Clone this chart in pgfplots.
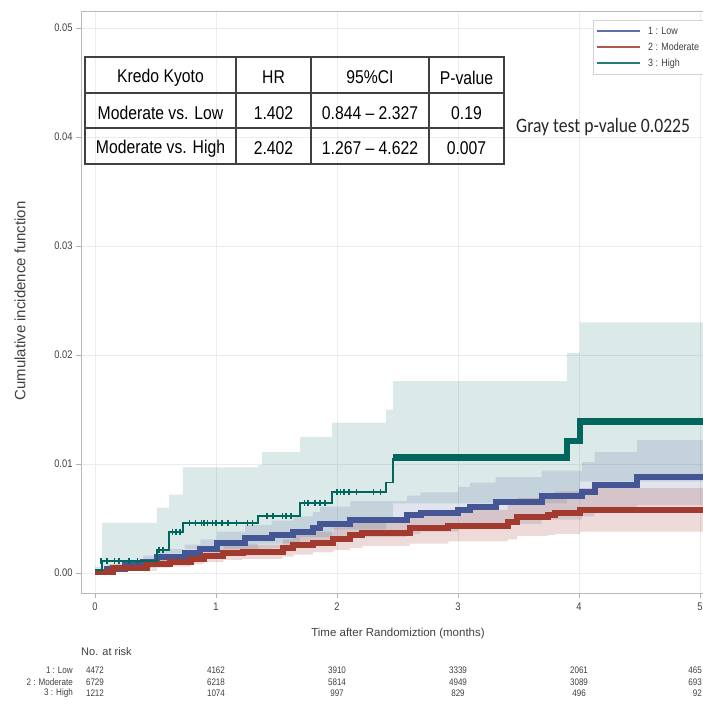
\documentclass[border=0pt]{standalone}
\usepackage{pgfplots}
\usepackage{pgfplotstable}
\pgfplotsset{compat=1.18}
\usepgfplotslibrary{fillbetween}
\usepackage{fontspec}
\setmainfont{Liberation Sans}
\newfontfamily\cond{Liberation Sans}[FakeStretch=0.85]
\newfontfamily\calib{Carlito}[FakeStretch=0.86]
\definecolor{cLow}{HTML}{445694}
\definecolor{cMod}{HTML}{A23A2E}
\definecolor{cHigh}{HTML}{01665E}

\pgfplotstableread{
x      y      lo     hi
0      0.0003 0.0000 0.0006
0.058  0.0011 0.0002 0.0046
0.512  0.0021 0.0007 0.0060
0.612  0.0038 0.0018 0.0072
0.727  0.0046 0.0022 0.0097
1.347  0.0052 0.0027 0.0099
1.38   0.0052 0.0027 0.0111
1.694  0.0064 0.0033 0.0125
1.959  0.0074 0.0040 0.0138
2.405  0.0083 0.0046 0.0150
2.463  0.0106 0.0064 0.0176
3.90   0.0121 0.0072 0.0202
4.008  0.0139 0.0084 0.0230
5.2    0.0139 0.0084 0.0230
}\tabHigh

\pgfplotstableread{
x      y      lo     hi
0      0.0001 0.0000 0.0003
0.1    0.0004 0.0002 0.0008
0.25   0.0007 0.0004 0.0012
0.4    0.0010 0.0006 0.0016
0.512  0.0015 0.0009 0.0022
0.74   0.0018 0.0011 0.0026
0.87   0.0022 0.0014 0.0031
1.01   0.0028 0.0018 0.0038
1.24   0.0032 0.0021 0.0044
1.46   0.0035 0.0023 0.0048
1.64   0.0038 0.0025 0.0052
1.8    0.0041 0.0027 0.0056
1.86   0.0045 0.0030 0.0061
2.11   0.0049 0.0033 0.0066
2.58   0.0053 0.0036 0.0071
2.69   0.0055 0.0038 0.0074
3.0    0.0058 0.0040 0.0079
3.1    0.0061 0.0042 0.0083
3.31   0.0065 0.0045 0.0088
3.69   0.0071 0.0049 0.0094
4.025  0.0074 0.0052 0.0102
4.13   0.0081 0.0056 0.0111
4.48   0.0088 0.0062 0.0122
5.2    0.0088 0.0062 0.0122
}\tabLow

\pgfplotstableread{
x      y      lo     hi
0      0.0001 0.0000 0.0003
0.15   0.0005 0.0003 0.0008
0.43   0.0008 0.0005 0.0012
0.62   0.0010 0.0006 0.0015
0.79   0.0013 0.0008 0.0018
0.9    0.0016 0.0010 0.0022
1.06   0.0018 0.0012 0.0025
1.22   0.0019 0.0013 0.0026
1.55   0.0023 0.0015 0.0031
1.64   0.0026 0.0017 0.0035
1.8    0.0028 0.0019 0.0038
1.97   0.0031 0.0021 0.0042
2.11   0.0035 0.0023 0.0047
2.21   0.0037 0.0025 0.0050
2.6    0.0041 0.0027 0.0055
2.92   0.0043 0.0029 0.0058
3.41   0.0047 0.0031 0.0063
3.49   0.0051 0.0034 0.0069
3.74   0.0053 0.0035 0.0072
3.8    0.0055 0.0036 0.0075
4.008  0.0058 0.0038 0.0078
5.2    0.0058 0.0038 0.0078
}\tabMod

\pgfplotstableread{
x     y
0.05  0.0011
0.10  0.0011
0.16  0.0011
0.20  0.0011
0.28  0.0011
0.35  0.0011
0.53  0.0021
0.56  0.0021
0.64  0.0038
0.67  0.0038
0.70  0.0038
0.78  0.0046
0.83  0.0046
0.88  0.0046
0.90  0.0046
0.93  0.0046
0.97  0.0046
1.00  0.0046
1.05  0.0046
1.10  0.0046
1.17  0.0046
1.26  0.0046
1.30  0.0046
1.42  0.0052
1.47  0.0052
1.55  0.0052
1.58  0.0052
1.62  0.0052
1.73  0.0064
1.76  0.0064
1.82  0.0064
1.86  0.0064
1.90  0.0064
2.00  0.0074
2.03  0.0074
2.06  0.0074
2.10  0.0074
2.16  0.0074
2.30  0.0074
2.36  0.0074
2.48  0.0106
2.52  0.0106
2.58  0.0106
2.60  0.0106
2.64  0.0106
}\tabCens

\begin{document}
\begin{tikzpicture}
\begin{axis}[
  at={(81pt,-593pt)}, anchor=south west,
  width=643.2pt, height=581pt, scale only axis,
  xmin=-0.116, xmax=5.2, ymin=-0.00183, ymax=0.05147,
  xtick={0,1,2,3,4,5},
  ytick={0,0.01,0.02,0.03,0.04,0.05},
  scaled y ticks=false,
  yticklabel style={/pgf/number format/.cd, fixed, fixed zerofill, precision=2},
  /pgf/number format/assume math mode=true,
  tick label style={font=\cond\fontsize{11}{13}\selectfont, text=black!75},
  xticklabel style={yshift=-1.5pt},
  tick pos=left, tick align=outside, major tick length=5pt,
  tick style={gray!60, line width=0.8pt},
  grid=major, grid style={gray!15, line width=0.8pt},
  axis line style={gray!55, line width=1pt},
  legend style={at={(0.7960,0.9862)}, anchor=north west, draw=gray!35, fill=white,
    font=\cond\fontsize{10.5}{12}\selectfont, text=black!75,
    nodes={inner sep=1pt, text height=9pt, text depth=3pt},
    row sep=2pt, inner xsep=3pt, inner ysep=4pt},
  legend cell align=left,
  legend image code/.code={\draw[#1, line width=2pt, opacity=0.85] (0pt,0pt) -- (43pt,0pt); \path (47pt,0pt);},
]
% confidence bands
\addplot[const plot, draw=none, name path=hU, forget plot] table[x=x,y=hi]{\tabHigh};
\addplot[const plot, draw=none, name path=hL, forget plot] table[x=x,y=lo]{\tabHigh};
\addplot[fill=cHigh, fill opacity=0.14, draw=none, forget plot] fill between[of=hU and hL];
\addplot[const plot, draw=none, name path=lU, forget plot] table[x=x,y=hi]{\tabLow};
\addplot[const plot, draw=none, name path=lL, forget plot] table[x=x,y=lo]{\tabLow};
\addplot[fill=cLow, fill opacity=0.16, draw=none, forget plot] fill between[of=lU and lL];
\addplot[const plot, draw=none, name path=mU, forget plot] table[x=x,y=hi]{\tabMod};
\addplot[const plot, draw=none, name path=mL, forget plot] table[x=x,y=lo]{\tabMod};
\addplot[fill=cMod, fill opacity=0.18, draw=none, forget plot] fill between[of=mU and mL];
% curves
\addplot[const plot, cLow, line width=6pt, mark=none] table[x=x,y=y]{\tabLow};
\addlegendentry{1 : Low}
\addplot[const plot, cMod, line width=6pt, mark=none] table[x=x,y=y]{\tabMod};
\addlegendentry{2 : Moderate}
\addplot[const plot, cHigh, line width=1.8pt, mark=none, skip coords between index={11}{30}] table[x=x,y=y]{\tabHigh};
\addlegendentry{3 : High}
\addplot[const plot, cHigh, line width=6.5pt, mark=none, forget plot, skip coords between index={0}{10}] table[x=x,y=y]{\tabHigh};
\addplot[only marks, mark=|, mark size=3pt, cHigh, mark options={line width=1.6pt}, forget plot] table[x=x,y=y]{\tabCens};
\end{axis}

% axis labels
\node[rotate=90, font=\fontsize{15}{17}\selectfont, text=black!75] at (20pt,-301pt) {Cumulative incidence function};
\node[font=\fontsize{11.5}{13}\selectfont, text=black!75] at (398pt,-634pt) {Time after Randomiztion (months)};

% HR table
\begin{scope}[line width=1.2pt, draw=black!75]
\draw (85pt,-57pt) rectangle (504pt,-164pt);
\draw (85pt,-93pt) -- (504pt,-93pt);
\draw (85pt,-128pt) -- (504pt,-128pt);
\draw (236pt,-57pt) -- (236pt,-164pt);
\draw (311pt,-57pt) -- (311pt,-164pt);
\draw (429pt,-57pt) -- (429pt,-164pt);
\end{scope}
\begin{scope}[every node/.style={font=\cond\fontsize{18.5}{20}\selectfont, text=black}]
\node at (160.5pt,-77.5pt) {Kredo Kyoto};
\node at (273.5pt,-77.5pt) {HR};
\node at (370pt,-77.5pt) {95\%CI};
\node at (466.5pt,-77.5pt) {P-value};
\node at (160.5pt,-113pt) {Moderate vs. Low};
\node at (273.5pt,-113pt) {1.402};
\node at (370pt,-113pt) {0.844 – 2.327};
\node at (466.5pt,-113pt) {0.19};
\node at (160.5pt,-148.5pt) {Moderate vs. High};
\node at (273.5pt,-148.5pt) {2.402};
\node at (370pt,-148.5pt) {1.267 – 4.622};
\node at (466.5pt,-148.5pt) {0.007};
\end{scope}
\node[anchor=west, font=\calib\fontsize{20.5}{22}\selectfont, text=black!85, inner sep=0pt] at (516pt,-127pt) {Gray test p-value 0.0225};

% numbers at risk
\node[anchor=west, font=\fontsize{11}{12}\selectfont, text=black!75, inner sep=0pt] at (81pt,-652pt) {No. at risk};
\begin{scope}[every node/.style={font=\cond\fontsize{9.5}{10}\selectfont, text=black!75, inner sep=0pt}]
\node[anchor=east] at (73pt,-670.5pt) {1 : Low};
\node[anchor=east] at (73pt,-682pt) {2 : Moderate};
\node[anchor=east] at (73pt,-693.5pt) {3 : High};
\foreach \xx/\a/\b/\c in {95/4472/6729/1212, 216/4162/6218/1074, 337/3910/5814/997, 458/3339/4949/829, 579/2061/3089/496}{
  \node at (\xx pt,-670.5pt) {\a};
  \node at (\xx pt,-682pt) {\b};
  \node at (\xx pt,-693.5pt) {\c};
}
\node[anchor=east] at (702pt,-670.5pt) {465};
\node[anchor=east] at (702pt,-682pt) {693};
\node[anchor=east] at (702pt,-693.5pt) {92};
\end{scope}
\pgfresetboundingbox
\useasboundingbox (0pt,0pt) rectangle (702pt,-704pt);
\end{tikzpicture}
\end{document}
